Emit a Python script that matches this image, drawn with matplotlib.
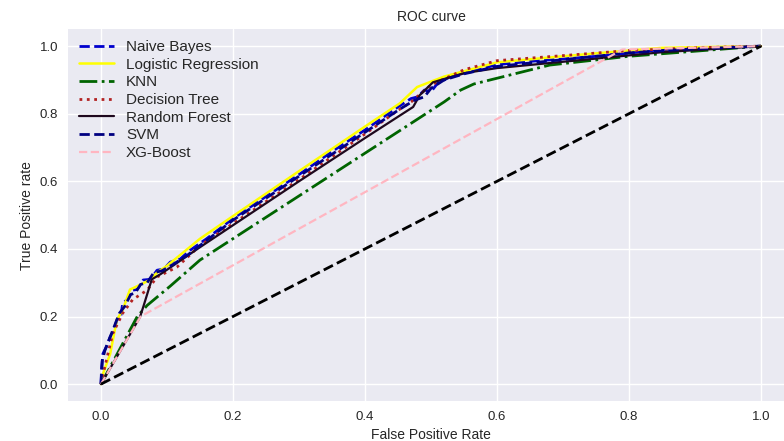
import matplotlib.pyplot as plt

# ROC curve points (fpr, tpr)
nb_fpr = [0, 0.001, 0.003, 0.008, 0.014, 0.02, 0.024, 0.03, 0.033, 0.04, 0.048, 0.055, 0.064, 0.075, 0.085, 0.095,
          0.105, 0.12, 0.135, 0.16, 0.2, 0.25, 0.3, 0.35, 0.4, 0.45, 0.47, 0.48, 0.49, 0.5, 0.51, 0.53, 0.56,
          0.6, 0.65, 0.7, 0.77, 0.85, 0.9, 1.0]
nb_tpr = [0, 0.05, 0.09, 0.11, 0.14, 0.16, 0.19, 0.2, 0.24, 0.25, 0.278, 0.28, 0.308, 0.31, 0.337, 0.34,
          0.361, 0.37, 0.396, 0.43, 0.49, 0.555, 0.62, 0.688, 0.752, 0.82, 0.845, 0.85, 0.87, 0.865, 0.89, 0.91, 0.925,
          0.945, 0.955, 0.962, 0.973, 0.99, 0.993, 1.0]

lr_fpr = [0, 0.003, 0.014, 0.024, 0.033, 0.044, 0.05, 0.074, 0.085, 0.1, 0.15, 0.2, 0.3, 0.4, 0.453, 0.479,
          0.52, 0.6, 0.7, 0.77, 0.85, 1.0]
lr_tpr = [0, 0.03, 0.09, 0.19, 0.22, 0.28, 0.285, 0.308, 0.33, 0.35, 0.43, 0.497, 0.63, 0.762, 0.831, 0.879,
          0.91, 0.952, 0.97, 0.982, 0.995, 1.0]

knn_fpr = [0, 0.055, 0.07, 0.105, 0.15, 0.52, 0.545, 0.565, 0.6, 0.68, 0.8, 0.9, 1.0]
knn_tpr = [0, 0.2, 0.233, 0.29, 0.367, 0.835, 0.87, 0.888, 0.905, 0.944, 0.97, 0.985, 1.0]

dt_fpr = [0, 0.002, 0.018, 0.033, 0.048, 0.07, 0.085, 0.115, 0.15, 0.2, 0.3, 0.4, 0.45, 0.47, 0.5, 0.55,
          0.6, 0.7, 0.8, 0.9, 1.0]
dt_tpr = [0, 0.02, 0.15, 0.21, 0.25, 0.278, 0.317, 0.346, 0.41, 0.475, 0.605, 0.74, 0.81, 0.835, 0.885, 0.93,
          0.957, 0.972, 0.987, 0.995, 1.0]

rf_fpr = [0, 0.059, 0.064, 0.077, 0.09, 0.15, 0.2, 0.3, 0.4, 0.473, 0.483, 0.503, 0.55, 0.6, 0.68, 0.85, 1.0]
rf_tpr = [0, 0.198, 0.228, 0.31, 0.325, 0.405, 0.47, 0.6, 0.728, 0.82, 0.855, 0.893, 0.92, 0.935, 0.95, 0.982, 1.0]

svm_fpr = [0, 0.002, 0.006, 0.012, 0.02, 0.028, 0.036, 0.045, 0.052, 0.06, 0.07, 0.08, 0.092, 0.11, 0.13,
           0.16, 0.2, 0.3, 0.4, 0.45, 0.475, 0.49, 0.5, 0.52, 0.55, 0.6, 0.7, 0.8, 0.88, 1.0]
svm_tpr = [0, 0.07, 0.1, 0.13, 0.17, 0.21, 0.23, 0.265, 0.27, 0.295, 0.3, 0.33, 0.335, 0.355, 0.38,
           0.425, 0.485, 0.615, 0.745, 0.81, 0.84, 0.85, 0.875, 0.9, 0.918, 0.94, 0.96, 0.98, 0.99, 1.0]

xgb_fpr = [0, 0.06, 0.79, 1.0]
xgb_tpr = [0, 0.2, 0.99, 1.0]

plt.style.use('seaborn-v0_8')
plt.rcParams['font.family'] = ['Liberation Sans', 'DejaVu Sans']

fig = plt.figure(figsize=(7.84, 4.41), dpi=100)
ax = fig.add_axes([0.0867, 0.0907, 0.926, 0.843])

ax.plot(nb_fpr, nb_tpr, linestyle='--', color='mediumblue', lw=2, label='Naive Bayes')
ax.plot(lr_fpr, lr_tpr, linestyle='-', color='yellow', lw=1.8, label='Logistic Regression')
ax.plot(knn_fpr, knn_tpr, linestyle='-.', color='darkgreen', lw=2, label='KNN')
ax.plot(dt_fpr, dt_tpr, linestyle=':', color='firebrick', lw=2, label='Decision Tree')
ax.plot(rf_fpr, rf_tpr, linestyle='-', color='#1e081e', lw=1.6, label='Random Forest')
ax.plot(svm_fpr, svm_tpr, linestyle='--', color='navy', lw=2, label='SVM')
ax.plot(xgb_fpr, xgb_tpr, linestyle='--', color='lightpink', lw=1.6, label='XG-Boost')
ax.plot([0, 1], [0, 1], linestyle='--', color='black', lw=2)

ax.set_xlim(-0.05, 1.05)
ax.set_ylim(-0.05, 1.05)
ax.set_title('ROC curve', fontsize=10)
ax.set_xlabel('False Positive Rate', fontsize=10)
ax.set_ylabel('True Positive rate', fontsize=10)
ax.tick_params(labelsize=9.5)
ax.legend(loc='upper left', fontsize=11, labelspacing=0.24, handlelength=2.3,
          borderaxespad=0.3, frameon=False)

fig.savefig('out.png', dpi=100)
